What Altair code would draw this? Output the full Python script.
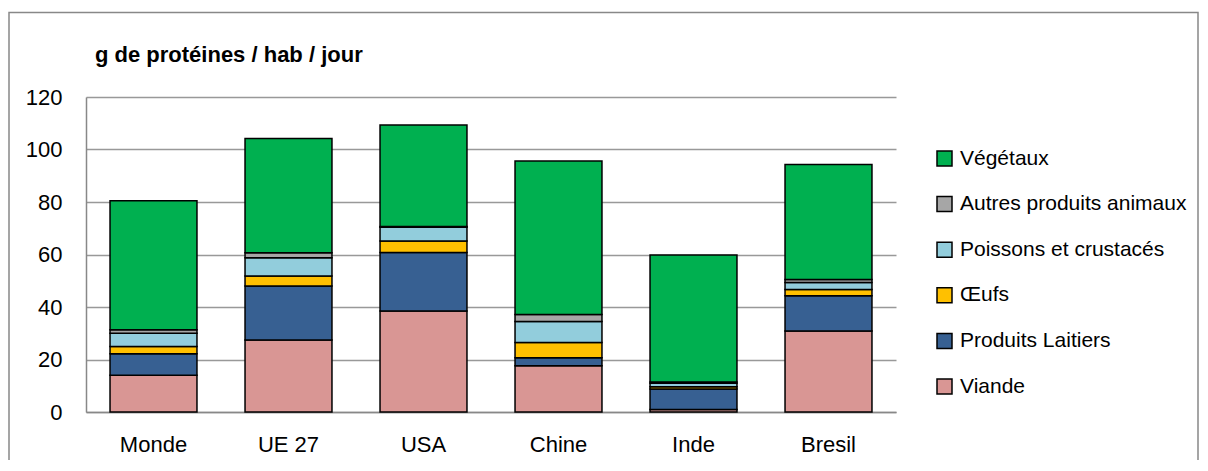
import altair as alt
import pandas as pd

categories = ["Monde", "UE 27", "USA", "Chine", "Inde", "Bresil"]
series = ["Viande", "Produits Laitiers", "Œufs", "Poissons et crustacés",
          "Autres produits animaux", "Végétaux"]
viande = [14.0, 27.4, 38.5, 17.6, 1.0, 30.9]
laitiers = [8.2, 20.6, 22.3, 3.1, 7.8, 13.4]
oeufs = [2.8, 3.8, 4.3, 5.8, 0.8, 2.4]
poissons = [5.0, 7.0, 5.3, 8.0, 1.4, 2.6]
autres = [1.3, 1.9, 0.3, 2.6, 0.4, 1.2]
vegetaux = [49.2, 43.5, 38.6, 58.5, 48.4, 43.8]
colors = ["#D99694", "#376092", "#FFC000", "#92CDDC", "#A6A6A6", "#00B050"]
y_ticks = [0, 20, 40, 60, 80, 100, 120]
title_text = "g de protéines / hab / jour"

values = [viande, laitiers, oeufs, poissons, autres, vegetaux]
rows = []
for si, (s, vals) in enumerate(zip(series, values)):
    for c, v in zip(categories, vals):
        rows.append({"pays": c, "serie": s, "valeur": v, "ordre": si})
df = pd.DataFrame(rows)

FONT = "Liberation Sans, Arial"
FS = 22

legend_order = series[::-1]
legend_colors = colors[::-1]

bars = alt.Chart(df).mark_bar(stroke="black", strokeWidth=1.5).encode(
    x=alt.X("pays:N", sort=categories, title=None,
            scale=alt.Scale(paddingInner=0.356, paddingOuter=0.178),
            axis=alt.Axis(labelAngle=0, labelFontSize=FS, labelFont=FONT,
                          labelColor="black", labelPadding=22, ticks=False,
                          domainColor="#888888", domainWidth=1.5)),
    y=alt.Y("valeur:Q", stack="zero", title=None,
            scale=alt.Scale(domain=[0, 120], nice=False),
            axis=alt.Axis(values=y_ticks, labelFontSize=FS, labelFont=FONT,
                          labelColor="black", labelPadding=24, ticks=False,
                          domainColor="#888888", domainWidth=1.5,
                          gridColor="#999999", gridWidth=1.5)),
    color=alt.Color("serie:N",
                    scale=alt.Scale(domain=legend_order, range=legend_colors),
                    legend=alt.Legend(title=None, orient="none",
                                      legendX=848, legendY=51,
                                      symbolType="square", symbolSize=225,
                                      symbolStrokeColor="black",
                                      symbolStrokeWidth=1.5,
                                      symbolOpacity=1,
                                      labelFontSize=21, labelFont=FONT,
                                      labelColor="black", labelOffset=5,
                                      rowPadding=23.6, labelLimit=400)),
    order=alt.Order("ordre:Q", sort="ascending"),
)

title = alt.Chart(pd.DataFrame({"t": [title_text]})).mark_text(
    fontSize=22, fontWeight="bold", font=FONT, align="left",
    baseline="alphabetic", color="black"
).encode(text="t:N", x=alt.value(9), y=alt.value(-35))

frame = alt.Chart(pd.DataFrame({"f": [1]})).mark_rect(
    fill=None, stroke="#888888", strokeWidth=1.5, clip=False
).encode(x=alt.value(-77), x2=alt.value(1112), y=alt.value(-84.5),
         y2=alt.value(500))

chart = alt.layer(frame, bars, title).properties(
    width=810, height=315,
    autosize=alt.AutoSizeParams(type="none"),
    padding={"left": 78, "top": 89, "right": 304, "bottom": 48},
).configure_view(stroke=None)

chart.save("out.html", embed_options={"renderer": "svg", "actions": False})
